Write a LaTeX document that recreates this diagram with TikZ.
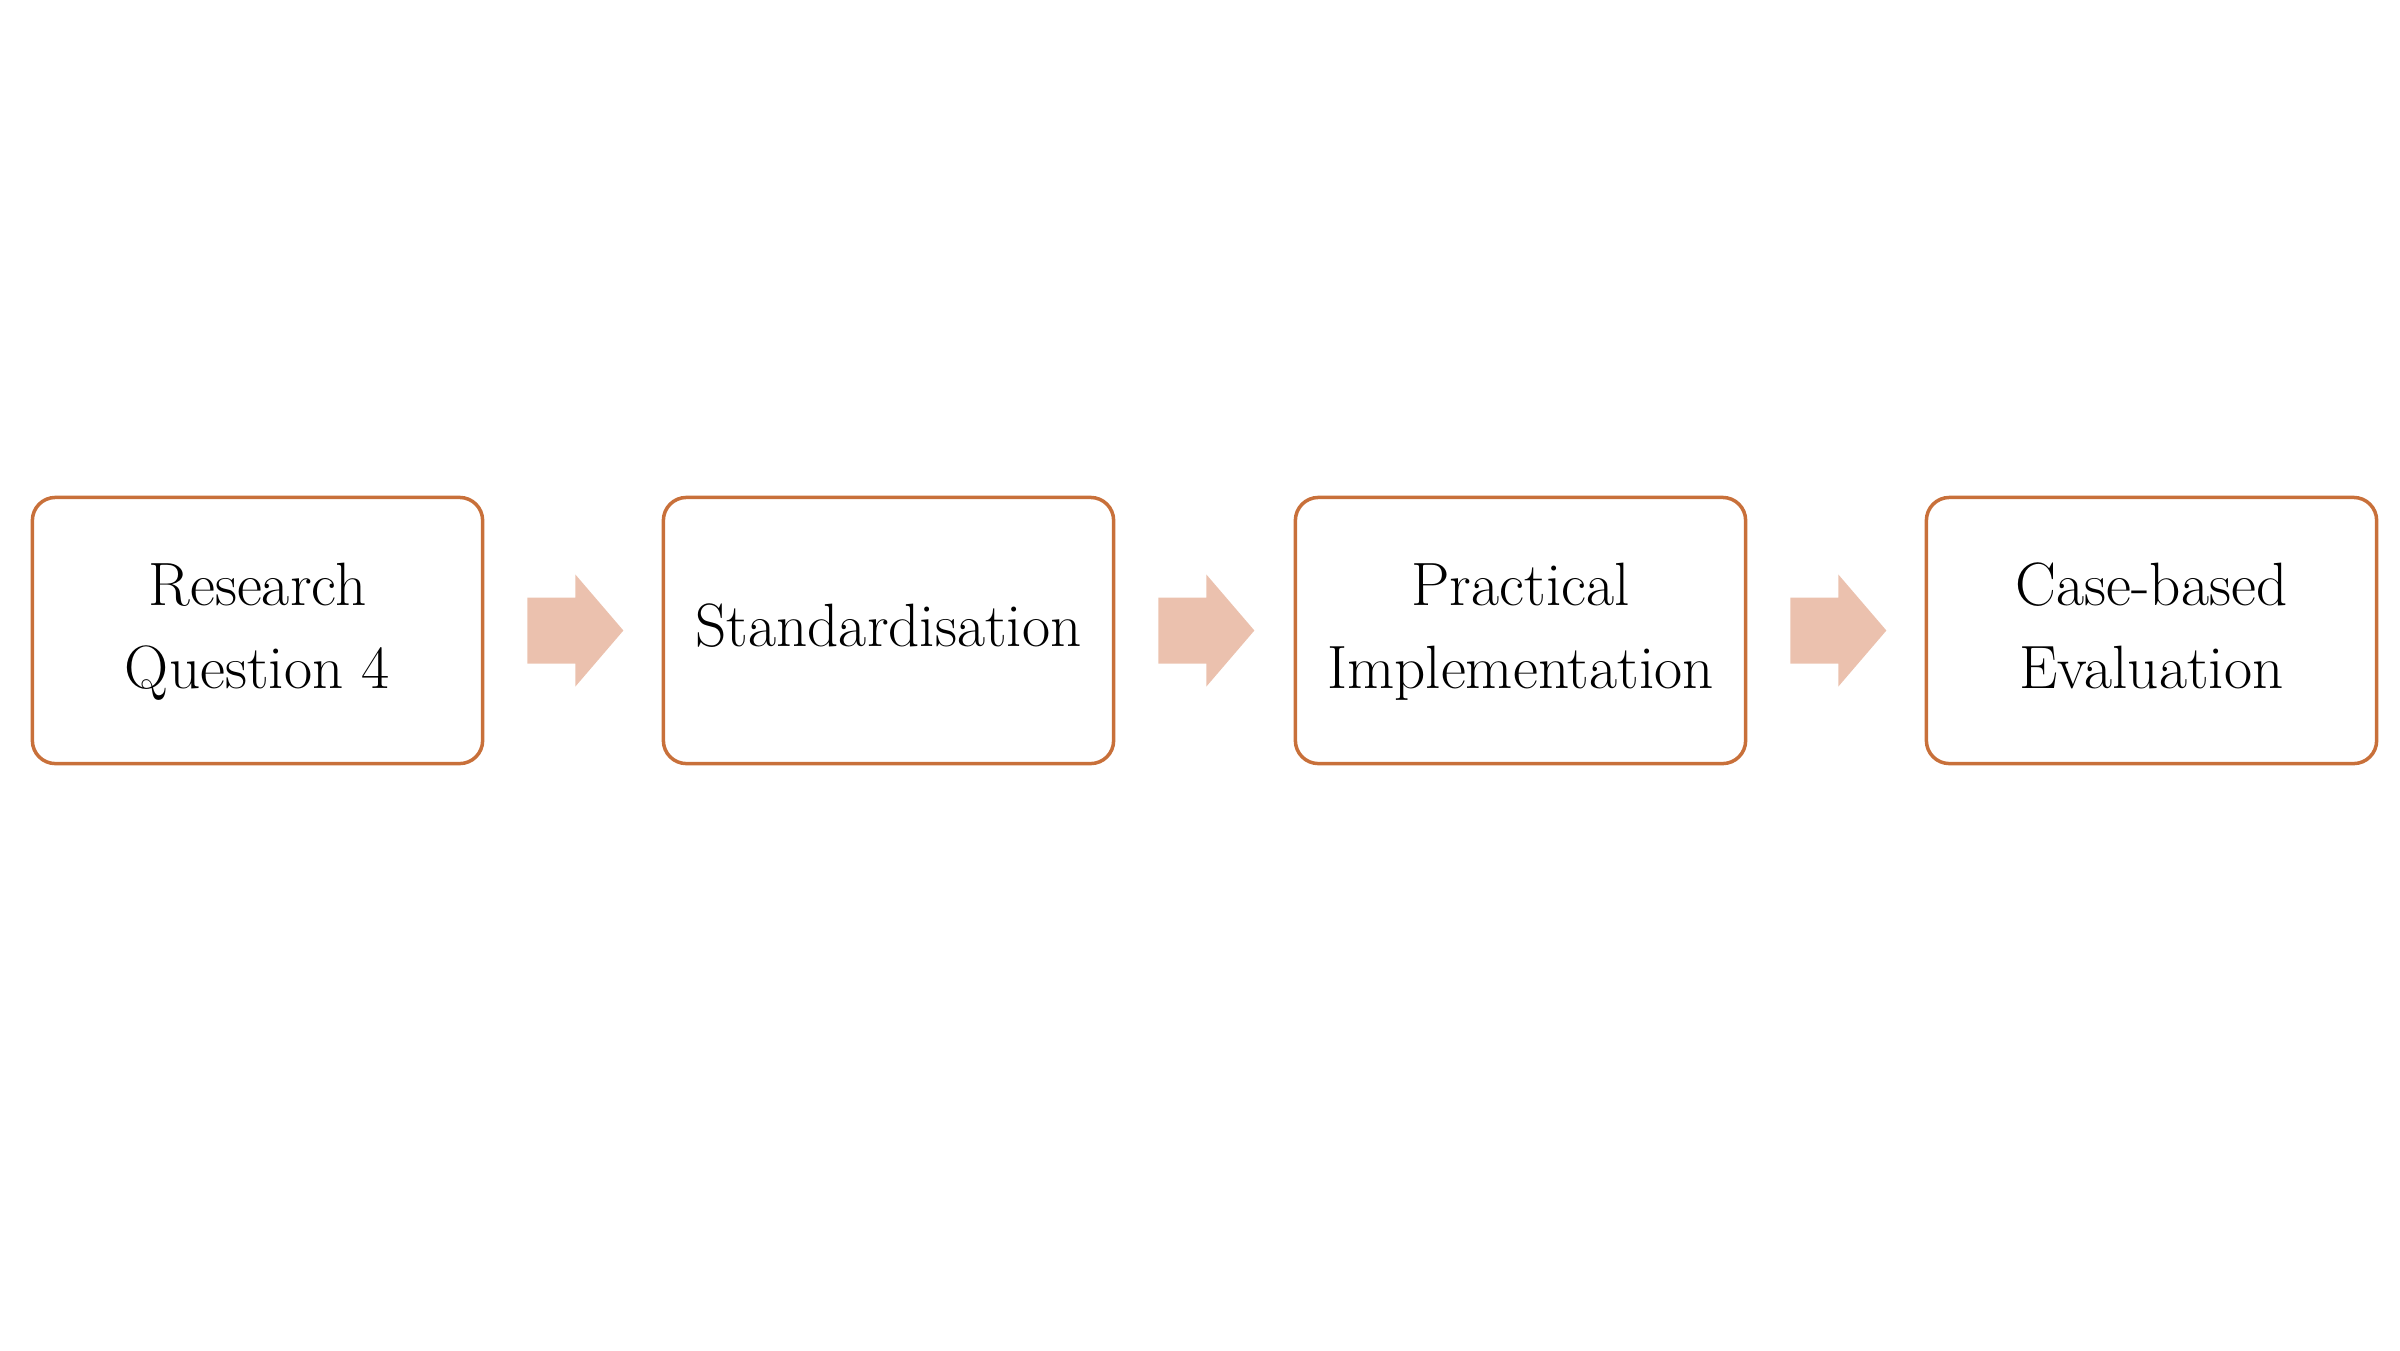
\documentclass[tikz,border=0pt]{standalone}
\definecolor{boxline}{RGB}{200,112,58}
\definecolor{arrowfill}{RGB}{235,193,174}
\begin{document}
\begin{tikzpicture}[x=0.01cm,y=-0.01cm,
  stage/.style={draw=boxline, line width=0.035cm, rounded corners=0.23cm,
    minimum width=4.50cm, minimum height=2.66cm, align=center,
    font=\fontsize{17.4}{23.4}\selectfont, inner sep=0pt},
  blockarrow/.style={fill=arrowfill}]
\useasboundingbox (0,0) rectangle (2400,1350);
\node[stage] (b1) at (257.5,630.5) {\strut Research\\\strut Question 4};
\node[stage] (b2) at (888.5,630.5) {\strut Standardisation};
\node[stage] (b3) at (1520.5,630.5) {\strut Practical\\\strut Implementation};
\node[stage] (b4) at (2151.5,630.5) {\strut Case-based\\\strut Evaluation};
\foreach \a in {b1,b2,b3}{
  \fill[blockarrow, shift={(\a.east)}]
    (43,-33) -- (91,-33) -- (91,-56) -- (139,0) -- (91,56) -- (91,33) -- (43,33) -- cycle;
}
\end{tikzpicture}
\end{document}
